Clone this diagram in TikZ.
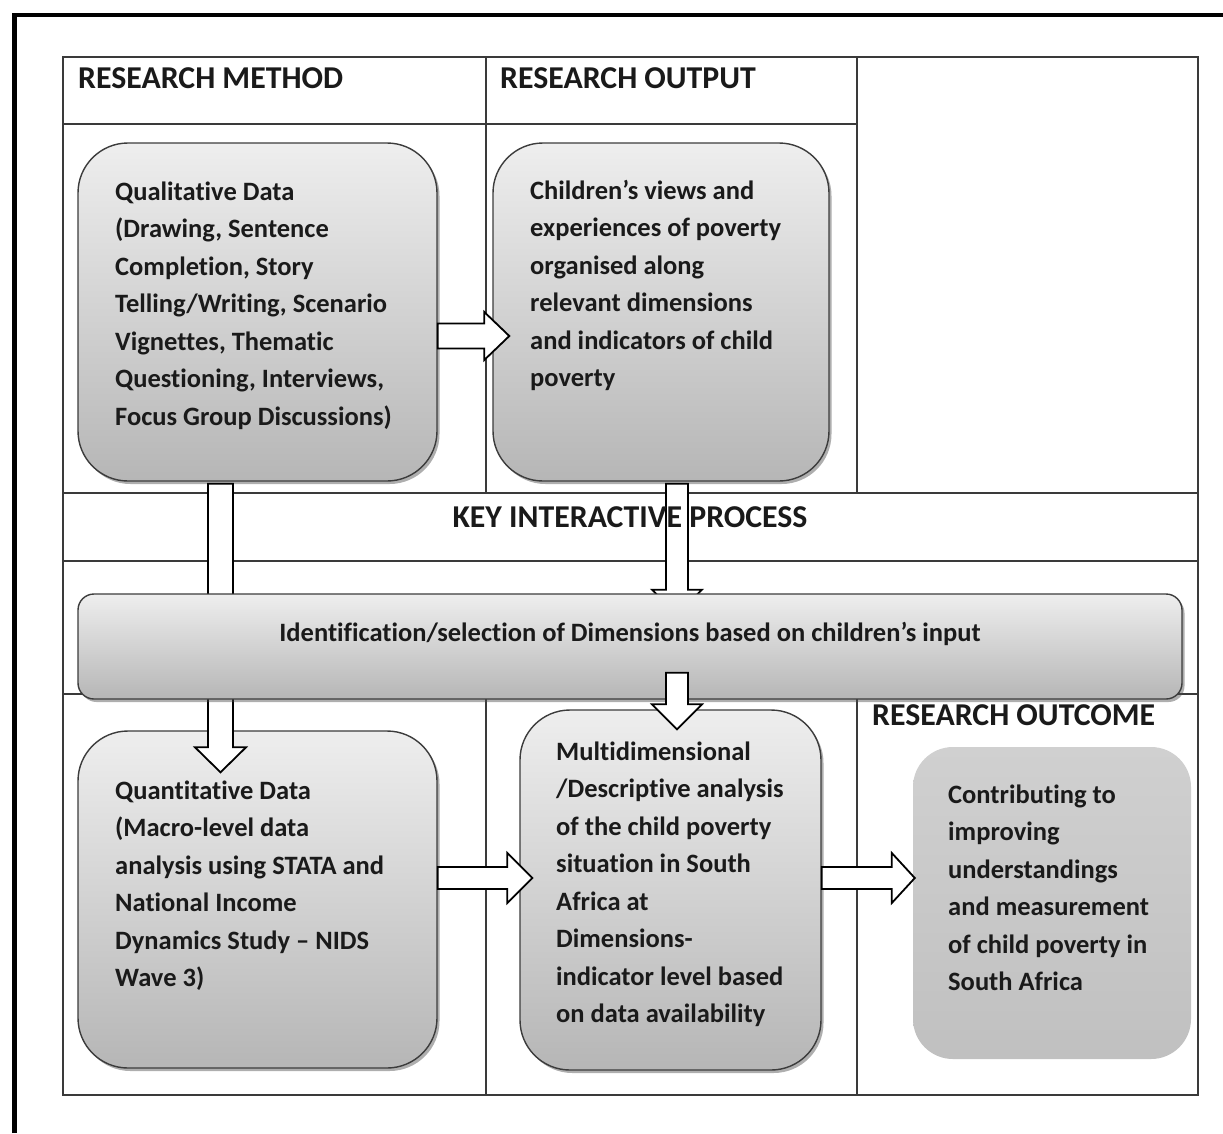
\documentclass[tikz,border=0pt]{standalone}
\usepackage{fontspec}
\setmainfont{Carlito}[Ligatures=NoCommon, Contextuals=NoAlternate]
\usetikzlibrary{calc,shadows}

\definecolor{gridline}{HTML}{3A3A3A}
\definecolor{boxline}{HTML}{3C3C3C}
\definecolor{boxtop}{HTML}{EEEEEE}
\definecolor{boxbot}{HTML}{B6B6B6}
\definecolor{flattop}{HTML}{D0D0D0}
\definecolor{flatbot}{HTML}{C0C0C0}
\definecolor{txt}{HTML}{1A1A1A}

\tikzset{
  grid/.style={draw=gridline, line width=1.4pt},
  rbox/.style={draw=boxline, line width=1.4pt, rounded corners=#1,
    top color=boxtop, bottom color=boxbot, inner sep=0pt,
    drop shadow={shadow xshift=2.5pt, shadow yshift=-3pt, opacity=0.45, fill=black!70}},
  flatbox/.style={rounded corners=40pt, top color=flattop, bottom color=flatbot, inner sep=0pt},
  header/.style={font=\fontsize{31.8}{38}\selectfont\bfseries, text=txt, inner sep=0pt},
  body/.style={font=\fontsize{26.5}{37.5}\selectfont\bfseries, text=txt, inner sep=0pt, align=left},
  blockarrow/.style={draw=black, line width=1.8pt, fill=white, line join=miter},
  glowarrow/.style={blockarrow, drop shadow={shadow xshift=0pt, shadow yshift=-4pt, opacity=0.35, fill=black!50}},
}

% horizontal block arrow: #1 start, #2 tip, #3 half shaft, #4 half head, #5 head length
\newcommand\hblock[5]{%
  \draw[blockarrow] let \p1=(#1), \p2=(#2) in
    (\x1,\y1+#3) -- (\x2-#5,\y1+#3) -- (\x2-#5,\y1+#4) -- (\x2,\y1)
    -- (\x2-#5,\y1-#4) -- (\x2-#5,\y1-#3) -- (\x1,\y1-#3) -- cycle;}
% downward block arrow, optional style as #1
\newcommand\vblock[6][blockarrow]{%
  \draw[#1] let \p1=(#2), \p2=(#3) in
    (\x1-#4,\y1) -- (\x1-#4,\y2+#6) -- (\x1-#5,\y2+#6) -- (\x1,\y2)
    -- (\x1+#5,\y2+#6) -- (\x1+#4,\y2+#6) -- (\x1+#4,\y1) -- cycle;}

\begin{document}
\begin{tikzpicture}[x=1pt, y=-1pt]
\useasboundingbox (0,0) rectangle (1223,1133);
\fill[white] (0,0) rectangle (1223,1133);

% heavy outer frame
\draw[line width=4.5pt, line cap=butt] (14.5,1133) -- (14.5,15) -- (1223,15);

% table grid
\draw[grid] (63,57) rectangle (1198,1095);
\draw[grid] (63,124) -- (857,124);
\draw[grid] (486,57) -- (486,493);
\draw[grid] (857,57) -- (857,493);
\draw[grid] (63,493) -- (1198,493);
\draw[grid] (63,561) -- (1198,561);
\draw[grid] (63,694) -- (1198,694);
\draw[grid] (486,694) -- (486,1095);
\draw[grid] (857,694) -- (857,1095);

% column headers
\node[header, anchor=base west] (hmethod) at (78,88) {RESEARCH METHOD};
\node[header, anchor=base west] (houtput) at (500,88) {RESEARCH OUTPUT};
\node[header, anchor=base west] (houtcome) at (872,725) {RESEARCH OUTCOME};

% process boxes
\node[rbox=50pt, minimum width=359pt, minimum height=338pt] (qual) at (257.5,312) {};
\node[rbox=50pt, minimum width=336pt, minimum height=338pt] (child) at (661,312) {};
\node[rbox=50pt, minimum width=359pt, minimum height=337pt] (quant) at (257.5,899.5) {};
\node[rbox=50pt, minimum width=301pt, minimum height=360pt] (multi) at (670.5,890) {};
\node[flatbox, minimum width=278pt, minimum height=312pt] (contrib) at (1052,903) {};

\node[body, anchor=north west] (tqual) at (115,175) {\rule{0pt}{25pt}Qualitative Data\\(Drawing, Sentence\\Completion, Story\\Telling/Writing, Scenario\\Vignettes, Thematic\\Questioning, Interviews,\\Focus Group Discussions)};
\node[body, anchor=north west] (tchild) at (530,174) {\rule{0pt}{25pt}Children’s views and\\experiences of poverty\\organised along\\relevant dimensions\\and indicators of child\\poverty};
\node[body, anchor=north west] (tquant) at (115,774) {\rule{0pt}{25pt}Quantitative Data\\(Macro-level data\\analysis using STATA and\\National Income\\Dynamics Study – NIDS\\Wave 3)};
\node[body, anchor=north west] (tmulti) at (556,735) {\rule{0pt}{25pt}Multidimensional\\/Descriptive analysis\\of the child poverty\\situation in South\\Africa at\\Dimensions-\\indicator level based\\on data availability};
\node[body, anchor=north west] (tcontrib) at (948,778) {\rule{0pt}{25pt}Contributing to\\improving\\understandings\\and measurement\\of child poverty in\\South Africa};

% arrows running behind the central bar
\vblock{$(qual.south)+(-37,2)$}{$(quant.north)+(-37,42)$}{12.5pt}{25.5pt}{25pt}
\vblock[glowarrow]{$(child.south)+(16,2)$}{$(child.south)+(16,133)$}{11pt}{25pt}{25pt}

\node[header, anchor=base] (hkey) at (630,527) {KEY INTERACTIVE PROCESS};

% central bar
\node[rbox=16pt, minimum width=1104pt, minimum height=105pt] (bar) at (630,646.5) {};
\node[body, anchor=base] (tbar) at (630,641) {Identification/selection of Dimensions based on children’s input};

% arrows in front
\vblock{$(bar.south)+(47,-27)$}{$(multi.north)+(6.5,20)$}{11pt}{25pt}{25pt}
\hblock{$(qual.east)+(0,24)$}{$(child.west)+(17,24)$}{12.5pt}{24pt}{25pt}
\hblock{$(quant.east)+(0,-21.5)$}{$(multi.west)+(13,-12)$}{11pt}{25pt}{25pt}
\hblock{$(multi.east)+(0,-12)$}{$(contrib.west)+(2,-25)$}{11pt}{25pt}{23pt}
\end{tikzpicture}
\end{document}
